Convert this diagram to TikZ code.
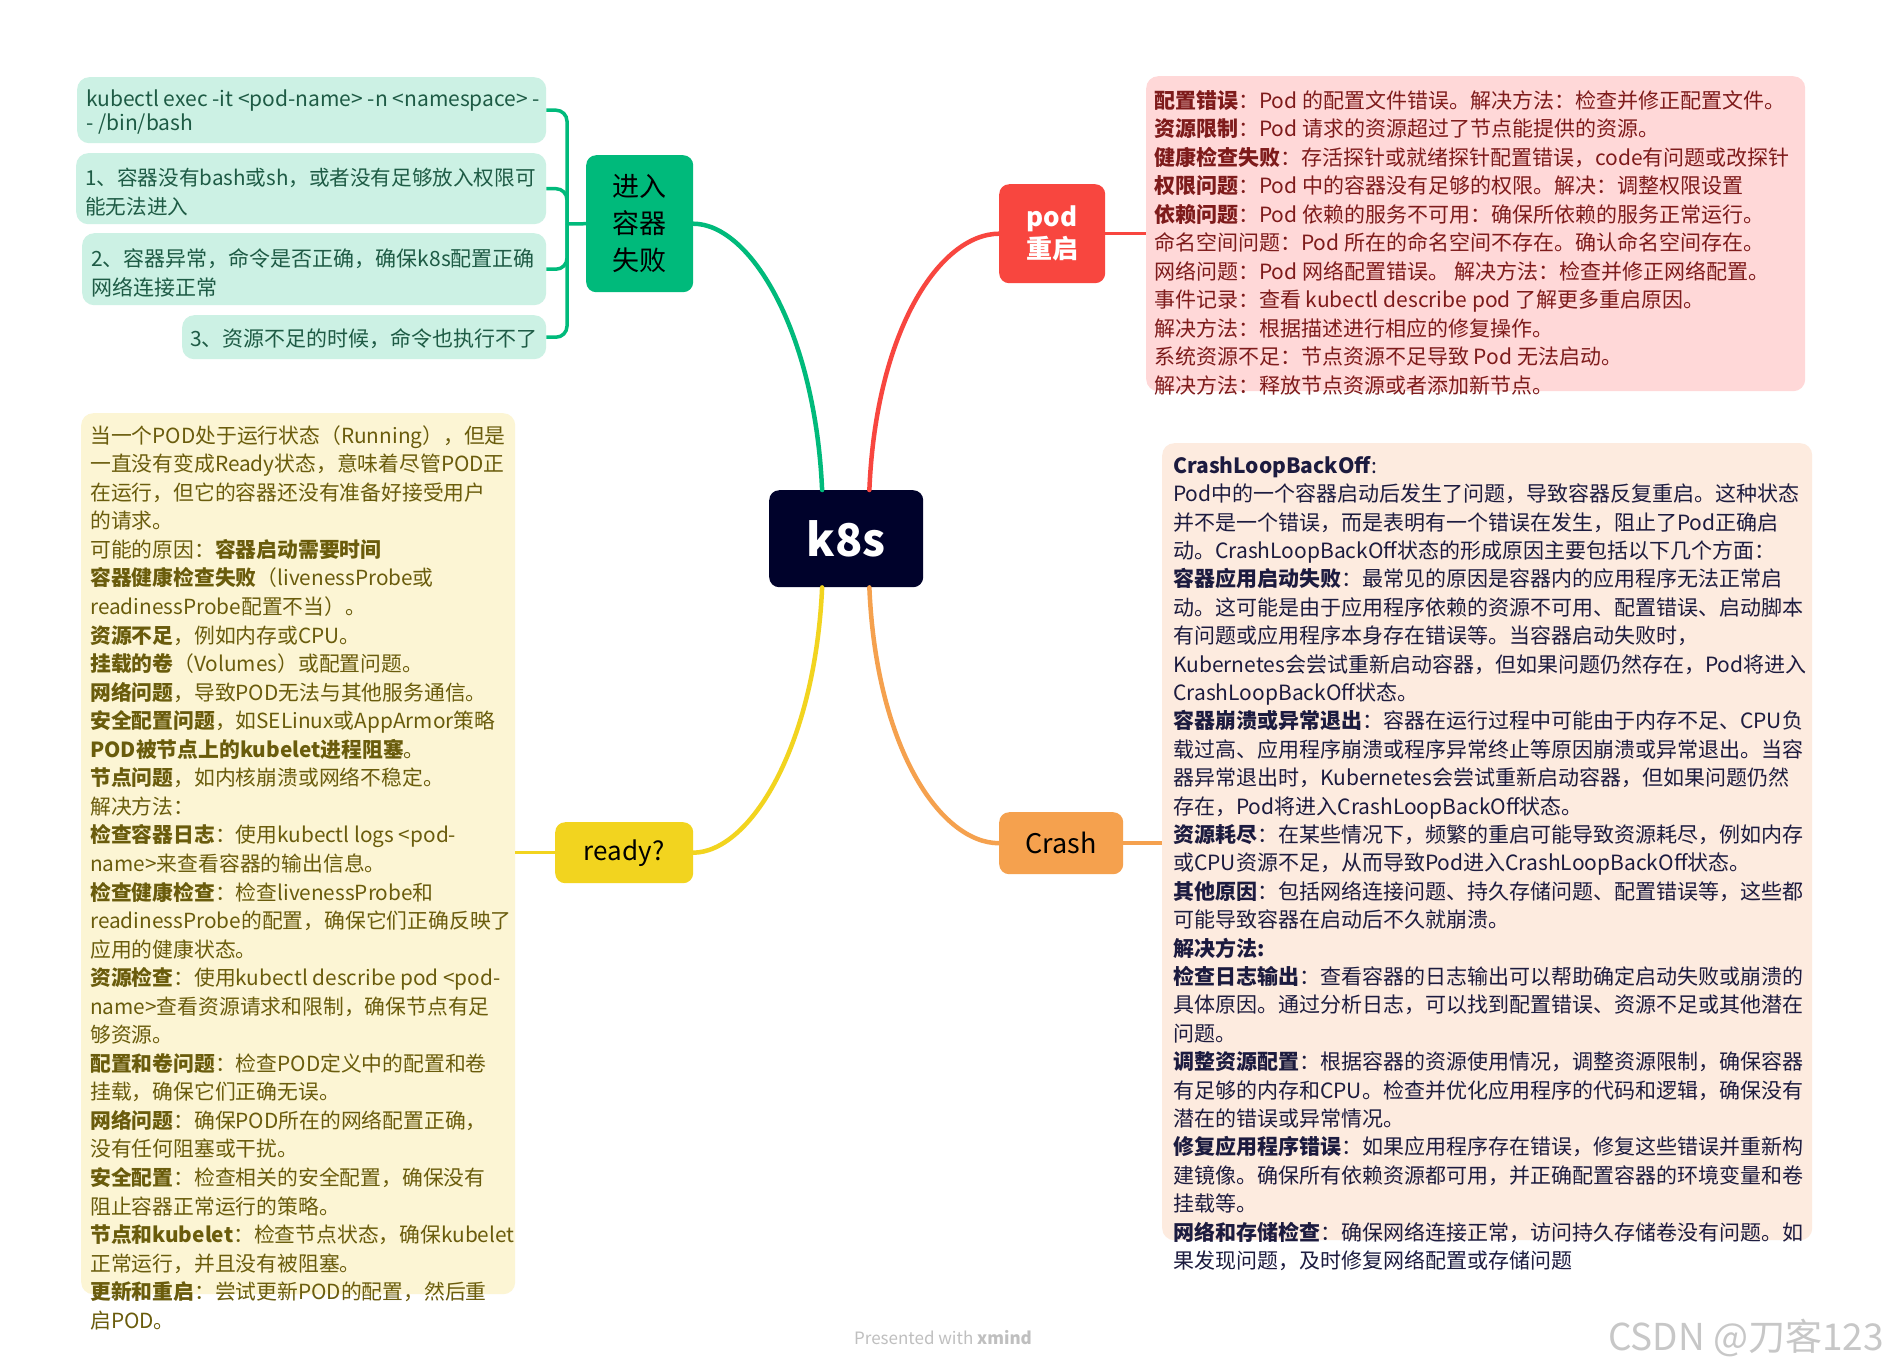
\documentclass[tikz,border=0pt]{standalone}
\usepackage{fontspec}
\setmainfont{Noto Sans CJK SC}
\usetikzlibrary{calc}
\definecolor{gnode}{HTML}{00BA7B}
\definecolor{gbox}{HTML}{CCF1E4}
\definecolor{gtext}{HTML}{1E5B45}
\definecolor{pnode}{HTML}{F8463F}
\definecolor{pbox}{HTML}{FFD8D8}
\definecolor{ptext}{HTML}{7E1B1B}
\definecolor{ynode}{HTML}{F2D41F}
\definecolor{ybox}{HTML}{FCF5D4}
\definecolor{ytext}{HTML}{6A5C0C}
\definecolor{onode}{HTML}{F5A14E}
\definecolor{obox}{HTML}{FDEBDF}
\definecolor{otext}{HTML}{1C1B3F}
\definecolor{knode}{HTML}{00022B}
\newcommand\myfs[2]{\fontsize{#1pt}{#2pt}\selectfont}
\newcommand\fl{\rule{0pt}{20pt}}
\begin{document}
\begin{tikzpicture}[x=1pt,y=-1pt,
  topic/.style={rounded corners=10pt, inner sep=0pt, align=center, anchor=north west},
  subbox/.style={rounded corners=12pt, inner sep=0pt, anchor=north west},
  txt/.style={inner sep=0pt, anchor=north west, align=left},
  conn/.style={line width=4.5pt, line cap=round},
  side/.style={line width=3.5pt},
]
\useasboundingbox[fill=white] (0,0) rectangle (1887,1369);

% ---------- central and main topics ----------
\node[topic, fill=knode, minimum width=154pt, minimum height=97pt, text=white, font=\myfs{45}{50}\bfseries] (k8s) at (769,490) {k8s};
\node[topic, fill=gnode, minimum width=107pt, minimum height=137pt, text=black, font=\myfs{27}{37}] (enter) at (586,155) {进入\\容器\\失败};
\node[topic, fill=pnode, minimum width=106pt, minimum height=99pt, text=white, font=\myfs{26}{32}\bfseries] (pod) at (999,184) {pod\\重启};
\node[topic, fill=ynode, minimum width=138pt, minimum height=61pt, text=black, font=\myfs{26}{30}] (ready) at (555,822) {ready?};
\node[topic, fill=onode, minimum width=124pt, minimum height=62pt, text=black, font=\myfs{27}{30}] (crash) at (999,812) {Crash};

% ---------- sub boxes ----------
\node[subbox, fill=gbox, minimum width=469pt, minimum height=66pt] (g1) at (77,77) {};
\node[subbox, fill=gbox, minimum width=470pt, minimum height=71pt] (g2) at (76,153) {};
\node[subbox, fill=gbox, minimum width=464pt, minimum height=72pt] (g3) at (82,233) {};
\node[subbox, fill=gbox, minimum width=364pt, minimum height=44pt] (g4) at (182,315) {};
\node[subbox, fill=pbox, minimum width=659pt, minimum height=315pt] (pbx) at (1146,76) {};
\node[subbox, fill=ybox, minimum width=434pt, minimum height=881pt] (ybx) at (81,413) {};
\node[subbox, fill=obox, minimum width=650pt, minimum height=797pt] (obx) at (1162,443) {};

% ---------- connectors ----------
\draw[conn, gnode] (enter.east) .. controls (750,224) and (815,330) .. ($(k8s.north west)!0.344!(k8s.north east)$);
\draw[conn, pnode] ($(k8s.north west)!0.65!(k8s.north east)$) .. controls (876,330) and (940,234) .. (pod.west);
\draw[conn, ynode] ($(k8s.south west)!0.344!(k8s.south east)$) .. controls (815,747) and (750,852) .. (ready.east);
\draw[conn, onode] ($(k8s.south west)!0.65!(k8s.south east)$) .. controls (876,747) and (940,843) .. (crash.west);

\draw[side, pnode] (pod.east) -- (pod.east -| pbx.west);
\draw[side, onode] (crash.east) -- (crash.east -| obx.west);
\draw[side, ynode] (ready.west) -- (ready.west -| ybx.east);

\coordinate (br) at (567,224);
\draw[side, gnode] (enter.west) -- (br);
\foreach \b in {g1,g2,g3,g4}
  \draw[side, gnode, rounded corners=11pt] (br) -- (br |- \b.east) -- (\b.east);

% ---------- green box texts ----------
\node[txt, text=gtext, font=\myfs{21}{24}] (g1t) at (86,86) {\fl kubectl exec -it <pod-name> -n <namespace> -\\- /bin/bash};
\node[txt, text=gtext, font=\myfs{20.6}{29}] (g2t) at (85,165) {\fl 1、容器没有bash或sh，或者没有足够放入权限可\\能无法进入};
\node[txt, text=gtext, font=\myfs{21}{29}] (g3t) at (91,246) {\fl 2、容器异常，命令是否正确，确保k8s配置正确\\网络连接正常};
\node[txt, text=gtext, font=\myfs{21}{29}] (g4t) at (190,326) {\fl 3、资源不足的时候，命令也执行不了};

% ---------- pink text ----------
\node[txt, text=ptext, font=\myfs{21}{28.5}] (pt) at (1154,88) {\fl\textbf{配置错误}：Pod 的配置文件错误。解决方法：检查并修正配置文件。\\
\textbf{资源限制}：Pod 请求的资源超过了节点能提供的资源。\\
\textbf{健康检查失败}：存活探针或就绪探针配置错误，code有问题或改探针\\
\textbf{权限问题}：Pod 中的容器没有足够的权限。解决：调整权限设置\\
\textbf{依赖问题}：Pod 依赖的服务不可用：确保所依赖的服务正常运行。\\
命名空间问题：Pod 所在的命名空间不存在。确认命名空间存在。\\
网络问题：Pod 网络配置错误。 解决方法：检查并修正网络配置。\\
事件记录：查看 kubectl describe pod 了解更多重启原因。\\
解决方法：根据描述进行相应的修复操作。\\
系统资源不足：节点资源不足导致 Pod 无法启动。\\
解决方法：释放节点资源或者添加新节点。};

% ---------- yellow text ----------
\node[txt, text=ytext, font=\myfs{20.8}{28.55}] (yt) at (90,423) {\fl 当一个POD处于运行状态（Running），但是\\
一直没有变成Ready状态，意味着尽管POD正\\
在运行，但它的容器还没有准备好接受用户\\
的请求。\\
可能的原因：\textbf{容器启动需要时间}\\
\textbf{容器健康检查失败}（livenessProbe或\\
readinessProbe配置不当）。\\
\textbf{资源不足}，例如内存或CPU。\\
\textbf{挂载的卷}（Volumes）或配置问题。\\
\textbf{网络问题}，导致POD无法与其他服务通信。\\
\textbf{安全配置问题}，如SELinux或AppArmor策略\\
\textbf{POD被节点上的kubelet进程阻塞}。\\
\textbf{节点问题}，如内核崩溃或网络不稳定。\\
解决方法：\\
\textbf{检查容器日志}：使用kubectl logs <pod-\\
name>来查看容器的输出信息。\\
\textbf{检查健康检查}：检查livenessProbe和\\
readinessProbe的配置，确保它们正确反映了\\
应用的健康状态。\\
\textbf{资源检查}：使用kubectl describe pod <pod-\\
name>查看资源请求和限制，确保节点有足\\
够资源。\\
\textbf{配置和卷问题}：检查POD定义中的配置和卷\\
挂载，确保它们正确无误。\\
\textbf{网络问题}：确保POD所在的网络配置正确，\\
没有任何阻塞或干扰。\\
\textbf{安全配置}：检查相关的安全配置，确保没有\\
阻止容器正常运行的策略。\\
\textbf{节点和kubelet}：检查节点状态，确保kubelet\\
正常运行，并且没有被阻塞。\\
\textbf{更新和重启}：尝试更新POD的配置，然后重\\
启POD。};

% ---------- crash text ----------
\node[txt, text=otext, font=\myfs{21}{28.4}] (ot) at (1173,453) {\fl\textbf{CrashLoopBackOff}:\\
Pod中的一个容器启动后发生了问题，导致容器反复重启。这种状态\\
并不是一个错误，而是表明有一个错误在发生，阻止了Pod正确启\\
动。CrashLoopBackOff状态的形成原因主要包括以下几个方面：\\
\textbf{容器应用启动失败}：最常见的原因是容器内的应用程序无法正常启\\
动。这可能是由于应用程序依赖的资源不可用、配置错误、启动脚本\\
有问题或应用程序本身存在错误等。当容器启动失败时，\\
Kubernetes会尝试重新启动容器，但如果问题仍然存在，Pod将进入\\
CrashLoopBackOff状态。\\
\textbf{容器崩溃或异常退出}：容器在运行过程中可能由于内存不足、CPU负\\
载过高、应用程序崩溃或程序异常终止等原因崩溃或异常退出。当容\\
器异常退出时，Kubernetes会尝试重新启动容器，但如果问题仍然\\
存在，Pod将进入CrashLoopBackOff状态。\\
\textbf{资源耗尽}：在某些情况下，频繁的重启可能导致资源耗尽，例如内存\\
或CPU资源不足，从而导致Pod进入CrashLoopBackOff状态。\\
\textbf{其他原因}：包括网络连接问题、持久存储问题、配置错误等，这些都\\
可能导致容器在启动后不久就崩溃。\\
\textbf{解决方法:}\\
\textbf{检查日志输出}：查看容器的日志输出可以帮助确定启动失败或崩溃的\\
具体原因。通过分析日志，可以找到配置错误、资源不足或其他潜在\\
问题。\\
\textbf{调整资源配置}：根据容器的资源使用情况，调整资源限制，确保容器\\
有足够的内存和CPU。检查并优化应用程序的代码和逻辑，确保没有\\
潜在的错误或异常情况。\\
\textbf{修复应用程序错误}：如果应用程序存在错误，修复这些错误并重新构\\
建镜像。确保所有依赖资源都可用，并正确配置容器的环境变量和卷\\
挂载等。\\
\textbf{网络和存储检查}：确保网络连接正常，访问持久存储卷没有问题。如\\
果发现问题，及时修复网络配置或存储问题};

% ---------- footer ----------
\node[inner sep=0pt, text=black!25, font=\myfs{17}{20}] (xm) at (943,1338) {Presented with \textbf{xmind}};
\node[inner sep=0pt, text=black!22, font=\myfs{37}{40}] (wm) at (1746,1338) {CSDN @刀客123};
\end{tikzpicture}
\end{document}
